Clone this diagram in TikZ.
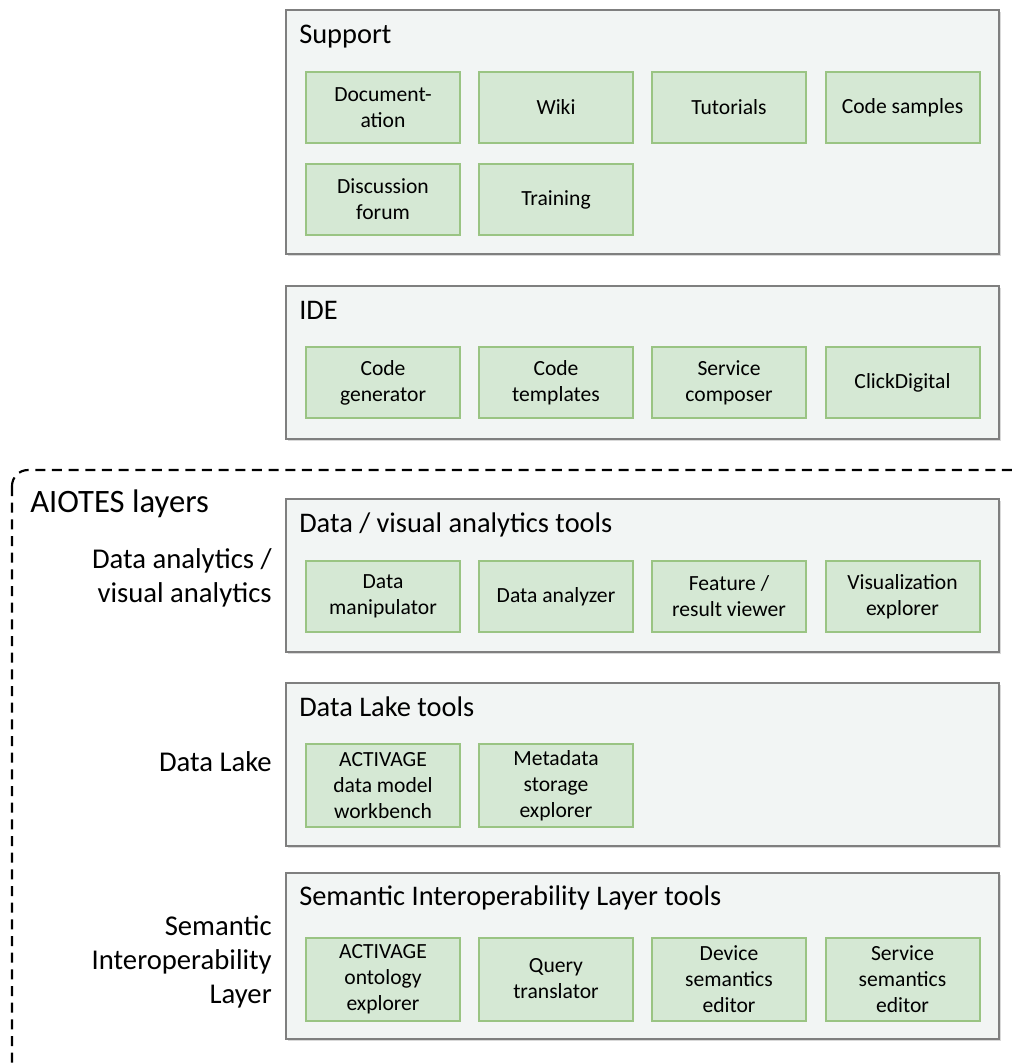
\documentclass[tikz,border=0pt]{standalone}
\usepackage{fontspec}
\setmainfont{Carlito}
\usetikzlibrary{shadows}

\definecolor{panelfill}{HTML}{F2F5F4}
\definecolor{panelline}{HTML}{7F7F7F}
\definecolor{toolfill}{HTML}{D5E8D4}
\definecolor{toolline}{HTML}{9AC483}

\tikzset{
  panel/.style={draw=panelline, fill=panelfill, line width=1.1pt, minimum width=534.75pt,
    inner sep=0pt, drop shadow={shadow xshift=1.2pt, shadow yshift=-1.2pt, opacity=0.3}},
  tool/.style={draw=toolline, fill=toolfill, line width=1.5pt, minimum width=115.5pt,
    minimum height=53.25pt, align=center, inner sep=0pt, font=\fontsize{16.2}{19.5}\selectfont},
  tall/.style={minimum height=62.25pt},
  title/.style={anchor=base west, inner sep=0pt, font=\fontsize{21.3}{25.5}\selectfont},
  layer/.style={anchor=east, align=right, inner sep=0pt, font=\fontsize{21.5}{25.5}\selectfont}
}

\begin{document}
\begin{tikzpicture}[x=0.75pt, y=-0.75pt]
\useasboundingbox (0,0) rectangle (1017,1063);

\begin{scope} % AIOTES frame, runs off the page
\clip (0,0) rectangle (1017,1063);
\draw[line width=1.6pt, dash pattern=on 7.5pt off 5pt, rounded corners=12pt] (12,470) rectangle (1032,1085);
\end{scope}

% panels
\node[panel, minimum height=183pt] (support) at (642.5,132) {};
\node[panel, minimum height=114.75pt] (ide) at (642.5,362.5) {};
\node[panel, minimum height=114.75pt] (analytics) at (642.5,575.5) {};
\node[panel, minimum height=122.25pt] (lake) at (642.5,764.5) {};
\node[panel, minimum height=124.5pt] (sil) at (642.5,956) {};

\node[title] (supporttitle) at (299,44) {Support};
\node[title] (idetitle) at (299,319) {IDE};
\node[title] (analyticstitle) at (299,532) {Data / visual analytics tools};
\node[title] (laketitle) at (299,716) {Data Lake tools};
\node[title] (siltitle) at (299,905) {Semantic Interoperability Layer tools};

% support
\node[tool] (doc) at (383,107.5) {Document-\\ation};
\node[tool] (wiki) at (556,107.5) {Wiki};
\node[tool] (tutorials) at (729,107.5) {Tutorials};
\node[tool] (samples) at (902.5,107.5) {Code samples};
\node[tool] (forum) at (383,199.5) {Discussion\\forum};
\node[tool] (training) at (556,199.5) {Training};

% ide
\node[tool] (generator) at (383,382.5) {Code\\generator};
\node[tool] (templates) at (556,382.5) {Code\\templates};
\node[tool] (composer) at (729,382.5) {Service\\composer};
\node[tool] (click) at (902.5,382.5) {ClickDigital};

% data / visual analytics
\node[tool] (manipulator) at (383,596.5) {Data\\manipulator};
\node[tool] (analyzer) at (556,596.5) {Data analyzer};
\node[tool] (viewer) at (729,596.5) {Feature /\\result viewer};
\node[tool] (vizexplorer) at (902.5,596.5) {Visualization\\explorer};

% data lake
\node[tool, tall] (workbench) at (383,785.5) {ACTIVAGE\\data model\\workbench};
\node[tool, tall] (metadata) at (556,785.5) {Metadata\\storage\\explorer};

% semantic interoperability
\node[tool, tall] (ontology) at (383,979) {ACTIVAGE\\ontology\\explorer};
\node[tool, tall] (query) at (556,979) {Query\\translator};
\node[tool, tall] (device) at (729,979) {Device\\semantics\\editor};
\node[tool, tall] (service) at (902.5,979) {Service\\semantics\\editor};

% layer labels
\node[title, font=\fontsize{24.5}{28}\selectfont] (aiotes) at (30,512) {AIOTES layers};
\node[layer] (analyticslabel) at (272,578) {Data analytics /\\visual analytics};
\node[layer, anchor=base east] (lakelabel) at (272,771) {Data Lake};
\node[layer] (sillabel) at (272,962) {Semantic\\Interoperability\\Layer};
\end{tikzpicture}
\end{document}
